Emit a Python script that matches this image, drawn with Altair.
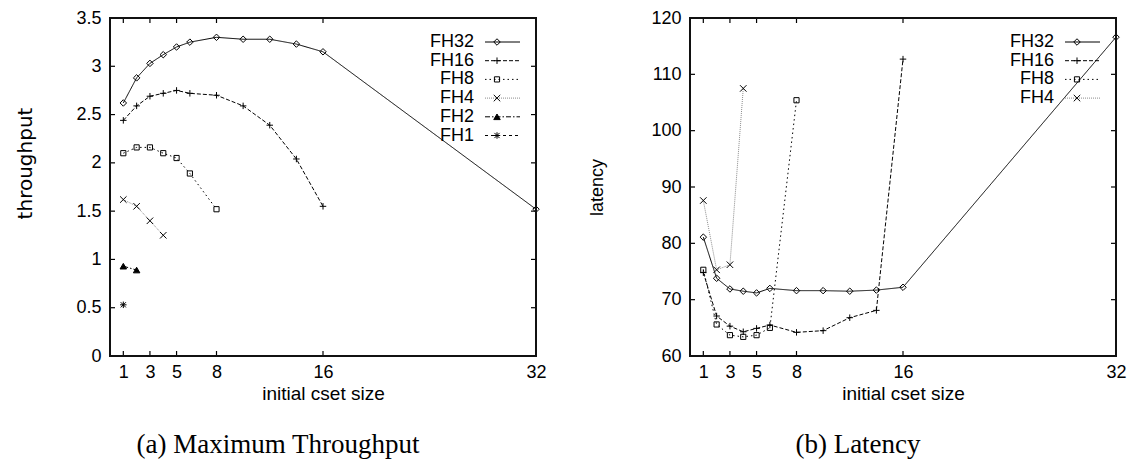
import altair as alt
import pandas as pd

# ---------------- data ----------------
x_fh32 = [1, 2, 3, 4, 5, 6, 8, 10, 12, 14, 16, 32]
x_fh16 = [1, 2, 3, 4, 5, 6, 8, 10, 12, 14, 16]
x_fh8 = [1, 2, 3, 4, 5, 6, 8]
x_fh4 = [1, 2, 3, 4]
x_fh2 = [1, 2]
x_fh1 = [1]

tp_fh32 = [2.62, 2.88, 3.03, 3.12, 3.20, 3.25, 3.30, 3.28, 3.28, 3.23, 3.15, 1.52]
tp_fh16 = [2.44, 2.59, 2.69, 2.72, 2.75, 2.72, 2.70, 2.59, 2.39, 2.04, 1.55]
tp_fh8 = [2.10, 2.16, 2.16, 2.10, 2.05, 1.89, 1.52]
tp_fh4 = [1.62, 1.55, 1.40, 1.25]
tp_fh2 = [0.93, 0.89]
tp_fh1 = [0.53]

lat_fh32 = [81.1, 73.8, 71.9, 71.5, 71.2, 72.0, 71.6, 71.6, 71.5, 71.7, 72.2, 116.6]
lat_fh16 = [74.8, 67.1, 65.3, 64.3, 64.9, 65.5, 64.2, 64.5, 66.8, 68.1, 112.7]
lat_fh8 = [75.3, 65.6, 63.7, 63.4, 63.7, 65.0, 105.4]
lat_fh4 = [87.6, 75.3, 76.2, 107.5]

x_ticks = [1, 3, 5, 8, 16, 32]
tp_ticks = [0, 0.5, 1, 1.5, 2, 2.5, 3, 3.5]
lat_ticks = [60, 70, 80, 90, 100, 110, 120]

series_all = ["FH32", "FH16", "FH8", "FH4", "FH2", "FH1"]
series_lat = ["FH32", "FH16", "FH8", "FH4"]

# ---------------- styles ----------------
W, H = 426, 338
TICK = 5
dashes = [[1, 0], [4, 2], [1.5, 3], [1, 1], [5, 2, 1.5, 2], [3, 3]]
strokes = ["black", "black", "black", "#8c8c8c", "black", "black"]
shapes = [
    "M0,-1L1,0L0,1L-1,0Z",
    "M-1,0L1,0M0,-1L0,1",
    "M-0.8,-0.8L0.8,-0.8L0.8,0.8L-0.8,0.8Z",
    "M-1,-1L1,1M-1,1L1,-1",
    "triangle-up",
    "M-1,0L1,0M0,-1L0,1M-0.8,-0.8L0.8,0.8M-0.8,0.8L0.8,-0.8",
]
fills = ["transparent", "transparent", "transparent", "transparent", "black", "transparent"]

sc_dash = alt.Scale(domain=series_all, range=dashes)
sc_stroke = alt.Scale(domain=series_all, range=strokes)
sc_shape = alt.Scale(domain=series_all, range=shapes)
sc_fill = alt.Scale(domain=series_all, range=fills)


def frame(xs_list, ys_list, names):
    rows = []
    for n, xs, ys in zip(names, xs_list, ys_list):
        for a, b in zip(xs, ys):
            rows.append({"series": n, "x": a, "y": b})
    return pd.DataFrame(rows)


def panel(df, names, ydom, yticks, yaxis_kw, caption):
    xs = alt.Scale(domain=[0, 32], nice=False, zero=False)
    ys = alt.Scale(domain=ydom, nice=False, zero=False)
    xax = alt.Axis(values=x_ticks, title="initial cset size", labelPadding=7, titlePadding=3,
                   labelFlush=False, titleFontSize=19)
    X = alt.X("x:Q", scale=xs, axis=xax)

    lines = alt.Chart(df).mark_line(strokeWidth=1).encode(
        x=X,
        y=alt.Y("y:Q", scale=ys, axis=alt.Axis(values=yticks, labelPadding=9, **yaxis_kw)),
        detail="series:N",
        strokeDash=alt.StrokeDash("series:N", scale=sc_dash, legend=None),
        stroke=alt.Stroke("series:N", scale=sc_stroke, legend=None),
    )
    pts = alt.Chart(df).mark_point(filled=False, strokeWidth=1, size=42, opacity=1, stroke="black").encode(
        x=X,
        y=alt.Y("y:Q", scale=ys, axis=None),
        shape=alt.Shape("series:N", scale=sc_shape, legend=None),
        fill=alt.Fill("series:N", scale=sc_fill, legend=None),
    )

    # inward gnuplot-style ticks on all four sides
    inner_y = pd.DataFrame({"y": yticks[1:-1]})
    inner_x = pd.DataFrame({"x": x_ticks})
    tk = dict(color="black", size=TICK, thickness=1.2, opacity=1)
    tl = alt.Chart(inner_y).mark_tick(orient="horizontal", **tk).encode(
        y=alt.Y("y:Q", scale=ys, axis=None), x=alt.value(TICK / 2))
    tr = alt.Chart(inner_y).mark_tick(orient="horizontal", **tk).encode(
        y=alt.Y("y:Q", scale=ys, axis=None), x=alt.value(W - TICK / 2))
    tb = alt.Chart(inner_x).mark_tick(orient="vertical", **tk).encode(
        x=X, y=alt.value(H - TICK / 2))
    tt = alt.Chart(inner_x).mark_tick(orient="vertical", **tk).encode(
        x=X, y=alt.value(TICK / 2))
    box = alt.Chart(pd.DataFrame({"k": [0]})).mark_rect(
        fill="transparent", stroke="#111111", strokeWidth=2, opacity=1).encode(
        x=alt.value(0), x2=alt.value(W), y=alt.value(0), y2=alt.value(H))

    leg = pd.DataFrame({"series": names, "ly": [24 + 18.7 * i for i in range(len(names))]})
    ly = alt.Y("ly:Q", scale=None, axis=None)
    ltext = alt.Chart(leg).mark_text(align="right", baseline="middle", font="Liberation Sans",
                                     fontSize=18, color="black").encode(
        x=alt.value(W - 62), y=ly, text="series:N")
    lrule = alt.Chart(leg).mark_rule(strokeWidth=1).encode(
        x=alt.value(W - 51), x2=alt.value(W - 16), y=ly,
        strokeDash=alt.StrokeDash("series:N", scale=sc_dash, legend=None),
        stroke=alt.Stroke("series:N", scale=sc_stroke, legend=None))
    lpt = alt.Chart(leg).mark_point(filled=False, strokeWidth=1, size=42, opacity=1, stroke="black").encode(
        x=alt.value(W - 39), y=ly,
        shape=alt.Shape("series:N", scale=sc_shape, legend=None),
        fill=alt.Fill("series:N", scale=sc_fill, legend=None))

    return alt.layer(lines, pts, tl, tr, tb, tt, box, lrule, lpt, ltext).resolve_scale(
        y="independent").properties(
        width=W, height=H,
        title=alt.TitleParams(caption, orient="bottom", anchor="middle", font="Liberation Serif",
                              fontSize=27, fontWeight="normal", color="black", offset=29, dx=-45))


df_tp = frame([x_fh32, x_fh16, x_fh8, x_fh4, x_fh2, x_fh1],
              [tp_fh32, tp_fh16, tp_fh8, tp_fh4, tp_fh2, tp_fh1], series_all)
df_lat = frame([x_fh32, x_fh16, x_fh8, x_fh4], [lat_fh32, lat_fh16, lat_fh8, lat_fh4], series_lat)

left = panel(df_tp, series_all, [0, 3.5], tp_ticks,
             dict(title="throughput", format="~g", titlePadding=40, titleFont="DejaVu Sans",
                  titleFontSize=20, titleY=145),
             "(a) Maximum Throughput")
right = panel(df_lat, series_lat, [60, 120], lat_ticks,
              dict(title="latency", format="d", titlePadding=44, titleFontSize=18),
              "(b) Latency")

chart = alt.hconcat(left, right, spacing=41).properties(
    padding={"left": 7, "top": 0, "right": 0, "bottom": 0},
    background="white"
).configure_view(stroke="#111111", strokeWidth=1.5).configure_axis(
    domain=False, ticks=False, grid=False, labelFont="Liberation Sans", labelFontSize=18,
    labelColor="black", titleFont="Liberation Sans", titleFontSize=18, titleFontWeight="normal",
    titleColor="black"
)

chart.save("out.html", embed_options={"renderer": "svg", "actions": False})
